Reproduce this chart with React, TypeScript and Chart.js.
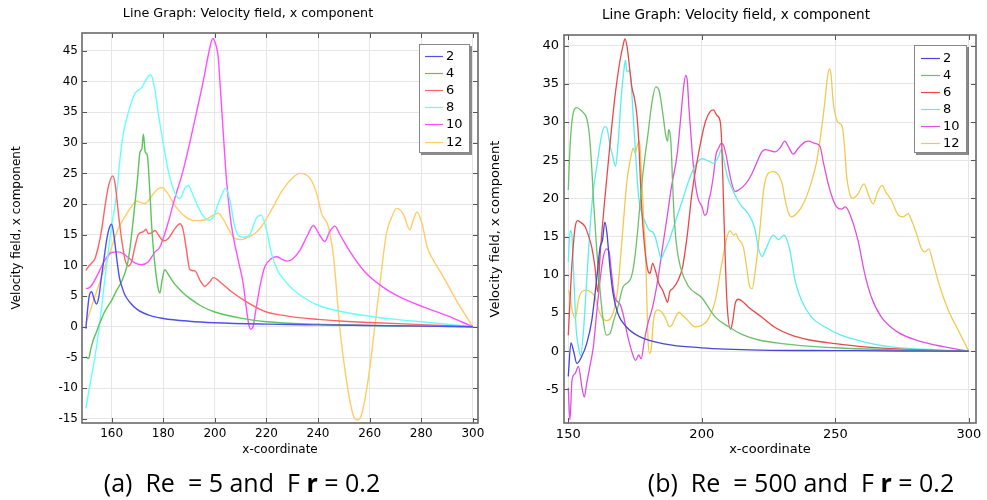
import React, { useEffect, useRef } from 'react';
import { Chart, registerables } from 'chart.js';

Chart.register(...registerables);

const SERIES_LABELS = ['2', '4', '6', '8', '10', '12'];
const TITLE_TEXT = 'Line Graph: Velocity field, x component';
const X_TITLE = 'x-coordinate';
const Y_TITLE = 'Velocity field, x component';

const A_X_TICKS = [160, 180, 200, 220, 240, 260, 280, 300];
const A_Y_TICKS = [-15, -10, -5, 0, 5, 10, 15, 20, 25, 30, 35, 40, 45];
const B_X_TICKS = [150, 200, 250, 300];
const B_Y_TICKS = [-5, 0, 5, 10, 15, 20, 25, 30, 35, 40];

const A_COLORS = ['#5050f0', '#5cc45c', '#ff6464', '#66ffff', '#ff50ff', '#ffcc66'];
const B_COLORS = ['#4646d8', '#6cc06c', '#e84a4a', '#5aeeee', '#e050e0', '#f0ca50'];

// Panel (a): Re = 5, Fr = 0.2   [x, u]
const A2: number[][] = [[150,-0.3],[150.6,2.5],[151.3,5],[152.2,5.7],[153.2,4.5],[154.1,3.7],[155,4.8],[156,8],[157,11],[158,14],[159,16],[160,16.7],[161,14.5],[162,11],[163,8],[164,6.5],[165,5.3],[167,4],[170,2.8],[175,1.8],[180,1.35],[190,0.9],[200,0.65],[220,0.42],[240,0.3],[260,0.2],[280,0.1],[300,0]];
const A4: number[][] = [[150,-4.9],[151,-5.2],[152,-3.5],[153,-2],[154,-1],[155,0.2],[156,1.2],[157,2.2],[158,3],[160,4.3],[162,6],[164,7.5],[166,10],[167,12.5],[168,16],[169,20],[170,24],[171,28.5],[171.7,29],[172.3,31.4],[173,28.5],[173.8,28],[174.8,22],[175.5,16.5],[176.1,13],[177,9.2],[178,6.3],[178.7,5.5],[179.5,7.5],[180.6,9.3],[182,8.5],[184,7.2],[187,5.8],[190,4.7],[195,3.3],[200,2.4],[210,1.4],[220,0.8],[240,0.4],[260,0.2],[280,0.1],[300,0]];
const A6: number[][] = [[150,9.2],[151,9.8],[152.3,10.4],[153.5,11.1],[154.8,13],[156.1,15.8],[157.4,19.6],[158.7,22.8],[160.4,24.6],[161.3,23.4],[162.6,18.5],[163.9,14.1],[165.2,10.9],[166.5,9.9],[167.7,10.6],[169,13],[170.3,15],[172.3,15.5],[173.3,15.9],[174.2,15.2],[175.5,15.3],[176.8,15.7],[178.1,15],[180,14],[182,14.4],[184.5,16],[186.5,16.8],[187.7,15.8],[189,12.5],[190.3,9.3],[192.3,9.1],[194.2,7.6],[196.1,6.6],[198,7.3],[199.4,8],[202.6,7.1],[206.5,5.7],[212.9,3.9],[220,2.4],[225.8,1.9],[230,1.6],[240,1.2],[250,0.9],[260,0.7],[280,0.35],[300,0]];
const A8: number[][] = [[150,-13.3],[152,-8.5],[153.5,-5],[155.2,0],[158,10],[160,16.5],[161.9,21.5],[163.2,27.2],[164.5,31.5],[166.5,35],[169,38],[171.6,39],[173.5,40.4],[174.8,41.1],[175.7,40.7],[176.8,38.5],[178.1,34.7],[180,29.9],[181.9,25.5],[184.5,21.8],[186.5,20.9],[188.4,22.6],[189.7,23.1],[191,22],[192.3,20.7],[194.8,18.5],[197.4,17.4],[199.4,17.9],[201.3,20.1],[203.2,22],[204.1,22.6],[205.8,20.7],[207.7,16.3],[209.7,14.7],[211.6,14.6],[213.5,15],[216.1,17.7],[218,18.2],[220,15.8],[221.9,12],[224.5,9],[225.8,8.2],[230,6.2],[235,4.6],[240,3.5],[250,2.4],[260,1.7],[270,1.2],[280,0.8],[290,0.4],[300,0]];
const A10: number[][] = [[150,6.25],[151,6.3],[152.3,6.8],[154.8,8.7],[157.4,10.9],[160,12.1],[162.6,12.2],[165.2,11.7],[169,10.4],[171.6,10.1],[174.2,10.6],[176.8,12.2],[178.7,13],[181.9,17],[184.5,21],[187.4,25],[190,29.5],[192.9,35],[195.5,40],[197.8,45],[199.2,47],[200.5,45.8],[201.3,44],[201.8,41],[203.2,32],[204.5,24],[205.8,18.5],[207,15],[208.2,12.5],[209.5,10],[211,7],[212.2,3],[213.2,0.3],[213.9,-0.4],[214.8,0],[215.8,2.5],[216.8,5],[218.2,8],[219.4,9.8],[221.9,11.1],[224,11.4],[226,11],[228,10.7],[230,11],[233,12.5],[236,15],[238.2,16.5],[240.5,15],[242.6,13.9],[244.5,15.5],[246.5,16.4],[248.5,15],[252,12.5],[258,9],[265,6.5],[271,5],[281,3.2],[290,1.8],[300,0]];
const A12: number[][] = [[150,0.5],[153.5,4.9],[157.4,9.8],[160,13],[162.6,16],[165.2,18],[167.7,19.6],[169.7,20.5],[171.6,20.2],[173,20.1],[174.8,20.9],[177.4,22.3],[179.4,22.7],[181.3,22],[184.5,19.8],[188.4,18],[192.3,17.3],[196.1,17.4],[199.4,18.2],[201.3,18.5],[203,17.7],[205.2,16],[207.7,14.4],[210.3,14.2],[212.9,14.6],[215.5,15.2],[218,16.3],[221.9,19],[225.8,22],[229.5,24],[232.9,25],[236.9,24.2],[239.5,21.7],[241.4,18.4],[244,16.3],[246,11.4],[248.5,-0.5],[251,-8.7],[253.6,-14.4],[255.2,-15.2],[256.8,-14.4],[259.4,-8.7],[262,0],[264.6,9.2],[266.5,15.2],[268.5,17.8],[270.4,19.3],[273,18.4],[275.6,15.8],[276.8,17.3],[278.4,18.7],[280.3,16.8],[282.3,13],[284.5,11],[287.8,8.7],[294.3,3.8],[300,0]];

// Panel (b): Re = 500, Fr = 0.2   [x, u]
const B2: number[][] = [[150,-3.3],[151,1.1],[152,0],[153.2,-1.6],[155,-0.7],[156.9,1],[158.8,4],[160.6,9.3],[161.9,13.6],[162.8,14.5],[163.7,16.9],[164.5,15.4],[165.6,11],[166.8,7.5],[168.6,4.9],[171.7,3.2],[176.7,1.9],[185.3,1],[200,0.44],[222,0.15],[250,0.08],[275,0.03],[300,0]];
const B4: number[][] = [[150,21.1],[150.7,27],[151.7,30.9],[153.2,31.9],[154.5,31.6],[155.7,31.2],[156.9,30.5],[157.9,28.3],[158.8,24],[159.4,20],[160.6,13.5],[161.9,8],[163.1,4],[164.3,2.1],[165.6,2.3],[167,4],[168.6,5.8],[170.5,8.4],[172.3,9],[173.6,9.7],[174.8,11.9],[176,15.8],[177.3,21],[178.2,24],[179.8,28.3],[181.4,32.7],[182.8,34.6],[184.1,34],[185.3,31.4],[186.5,28.3],[187.2,27.5],[187.6,29],[188.1,28.5],[188.5,27],[189,22.7],[189.6,18],[190.5,14],[192,11],[195,8.5],[200,7],[205,4.5],[210,3.2],[215,2.2],[221,1.5],[230,1],[250,0.45],[270,0.2],[300,0]];
const B6: number[][] = [[150,2.1],[151.4,11.5],[152.6,16.3],[153.5,17.1],[154.5,16.9],[156.3,16.3],[157.5,15.2],[158.8,13.6],[160,11],[161,7.8],[162,13],[163.7,20],[165.6,27],[167.4,33.1],[169.3,37.9],[170.5,40],[171.2,40.9],[172,39.9],[173,37],[173.8,34.6],[174.8,33.1],[175.7,30.9],[176.4,27.5],[177.3,20],[178.5,14],[179.8,10.6],[180.6,10.2],[181.6,11.5],[182.6,10.6],[184,8.8],[185.3,8],[186.3,7.1],[187.2,6.4],[188,7.8],[189.1,8.2],[191,9.2],[192.8,11],[194.5,15],[196.4,20.9],[198.9,26.1],[201.4,30.1],[203.2,31.4],[204.4,31.6],[205.6,30.9],[206.9,30.1],[207.5,27],[208.1,20],[208.8,12],[209.5,6],[210.8,2.9],[211.6,4],[212.5,6.2],[213.7,6.8],[215.6,6.4],[217.4,5.8],[222.3,4.5],[227,3.2],[233.6,2.1],[240,1.5],[250,1],[260,0.6],[270.7,0.35],[285,0.15],[300,0]];
const B8: number[][] = [[150,11.7],[150.7,15.8],[151.3,15.4],[152,10.2],[153,2.7],[153.8,0.6],[154.6,-0.6],[155.7,2.7],[156.9,9.3],[158.1,15.8],[159.2,20.5],[160.6,24],[162.5,28.3],[163.7,29.4],[164.5,29.2],[165.6,27],[166.8,25.3],[167.7,24.2],[168.6,27],[169.9,33.5],[170.9,37],[171.4,38.1],[172,36.6],[173,36.8],[173.6,35],[174.2,31.4],[175.4,24.8],[176.4,20],[177.6,18],[179.1,16.7],[180.4,15.8],[181.6,15.6],[182.8,14.7],[184,13],[184.8,12.1],[185.9,13],[187.8,14.5],[190.2,17.1],[192.7,19.7],[195.2,22.4],[197.7,24.4],[200.1,25.2],[202.6,24.9],[204.4,24.6],[206.3,25.5],[207.3,26.4],[208.1,25.3],[209.4,23.1],[211.2,21.4],[213.1,20],[214.9,19],[217.4,18],[219.9,16],[221.2,13.5],[222.6,12.4],[224,13.4],[226.8,15.2],[228.8,14.6],[230.8,15.2],[233,13.2],[234.9,9.3],[237.3,6.7],[241,4.5],[246,3.2],[252.2,2.1],[260.9,1.2],[270.8,0.57],[283,0.26],[300,0]];
const B10: number[][] = [[150,-4.8],[150.6,-9],[151.4,-3.8],[152.6,-2.9],[153.8,-2],[155.1,-4.7],[156,-6],[156.9,-4.2],[158.1,-2],[159.4,0.6],[160.6,4.9],[161.9,9.3],[163.1,12.3],[164.3,13.4],[165.3,13],[166.2,10.2],[167.4,7.1],[169.3,6.2],[170.5,4.9],[172.3,1.9],[174.2,-0.5],[175.2,-1.2],[176.4,-0.5],[177.3,-1],[178.5,1.4],[179.8,3.6],[181.6,5.8],[183.5,9.3],[185.3,13.6],[187.2,18],[188.4,21],[190.9,26.1],[192.1,30.5],[193.3,34.9],[194,36.1],[194.6,35.3],[195.2,31.8],[196.4,26.1],[197.5,22.2],[198.6,20],[200.1,18.9],[201.1,17.8],[202,18.2],[202.6,19.7],[203.2,20.5],[204.4,23.1],[205.3,25.7],[206.3,26.6],[207.3,27.2],[208.1,27],[209.1,25.7],[210,24],[211.2,22],[212.5,20.9],[213.7,21.1],[216.2,21.8],[218.6,23.1],[221.1,25.1],[222.3,26],[223.7,26.4],[227.4,26.1],[229.3,26.6],[231.1,27.5],[232.4,26.8],[234.3,25.8],[236.2,26.6],[238.7,27.4],[239.9,27.5],[242.4,27.2],[244.3,26.8],[245.5,24.8],[247.3,22],[249,20],[250.5,18.9],[252.3,18.6],[253.8,18.9],[255.4,18],[258.5,14.5],[261,10.2],[263.5,7.1],[267.2,4.5],[273.4,2.5],[280.9,1.4],[290.8,0.57],[300,0]];
const B12: number[][] = [[150,8],[150.5,7.5],[151.4,5.4],[152.6,4.3],[153.8,6.7],[155.1,7.8],[156.9,8],[158.2,7.8],[160,7.1],[161.2,5.6],[162.5,4.5],[164.3,4],[166.2,4.5],[167.4,5.8],[168.6,8.4],[169.9,13.6],[171.1,18.9],[172,22.4],[172.7,24],[173.6,25.7],[174.3,26.6],[175.1,25.9],[175.7,26.8],[176.7,27.5],[177.3,24],[177.9,20],[178.4,16],[178.9,13.6],[179.4,7.1],[179.9,1.4],[180.4,-0.3],[181,0.1],[181.9,4],[183.5,5.4],[185.1,5.1],[186.8,4],[187.8,3.2],[188.8,3.4],[190.2,4.5],[191.5,5.1],[192.7,4.7],[194.6,4.1],[196.4,3.4],[197.7,3.2],[200.1,3.4],[202.6,4.3],[205.1,6.7],[207.5,11.5],[209.4,14.9],[210.6,15.8],[211.9,15.2],[212.8,15.4],[213.7,14.7],[215.6,13.6],[216.8,11],[218,8.4],[218.9,8.2],[219.9,10.2],[221.1,13.6],[222.3,18],[223.1,21],[224.9,23.3],[226.8,23.5],[228.7,23.1],[230.2,21.8],[231.1,20],[232.4,18.2],[233.6,17.6],[235.5,18],[237.4,18.9],[239.5,20.5],[241.1,22.2],[243,24.8],[244.9,29.2],[246.1,32.7],[247,35.7],[247.8,37],[248.4,36.2],[249.2,32.7],[250.5,30.3],[251.7,29.8],[252.6,29.4],[253.4,27],[254.2,23.1],[255.5,20.5],[256.5,20],[257.5,20.2],[258.5,20.6],[259.8,21.5],[260.8,21.9],[262.3,20.6],[264.2,19.3],[265.8,20.8],[267.5,21.7],[269,20.8],[271.1,19.7],[273.6,17.8],[275.4,17.6],[277.3,18],[278.6,17.1],[280.4,15.4],[282.3,13.4],[283.6,13],[285,13.4],[286.7,11.5],[289.2,8.4],[292.3,5.4],[296.1,2.7],[300,0]];

const A_SERIES = [A2, A4, A6, A8, A10, A12];
const B_SERIES = [B2, B4, B6, B8, B10, B12];

type LegendBox = { x: number; y: number; w: number; h: number; l0: number; l1: number; tx: number; row0: number; dy: number };
type Panel = {
  left: number; w: number; h: number; yW: number; xH: number; padRight: number; padTop: number;
  font: number; titleFont: number; titleX: number; titleY: number; tickPadX: number; tickPadY: number;
  xTitlePad: number; yTitlePad: number;
  xMin: number; xMax: number; yMin: number; yMax: number;
  xTicks: number[]; yTicks: number[]; series: number[][][]; colors: string[]; lineW: number;
  legend: LegendBox;
};

const PANEL_A: Panel = {
  left: 0, w: 496, h: 470, yW: 82, xH: 47, padRight: 18, padTop: 33,
  font: 12, titleFont: 12.7, titleX: 248, titleY: 14, tickPadX: 4, tickPadY: 4,
  xTitlePad: 12.8, yTitlePad: 10,
  xMin: 148.5, xMax: 302, yMin: -15.7, yMax: 47.9,
  xTicks: A_X_TICKS, yTicks: A_Y_TICKS, series: A_SERIES, colors: A_COLORS, lineW: 1.4,
  legend: { x: 419, y: 44, w: 51, h: 109, l0: 425, l1: 443, tx: 446, row0: 56, dy: 17.1 },
};

const PANEL_B: Panel = {
  left: 487, w: 500, h: 470, yW: 77, xH: 47, padRight: 11, padTop: 35,
  font: 13, titleFont: 13.6, titleX: 249, titleY: 15, tickPadX: 4, tickPadY: 5,
  xTitlePad: 12.2, yTitlePad: 1.2,
  xMin: 148.4, xMax: 302.7, yMin: -9.4, yMax: 41.4,
  xTicks: B_X_TICKS, yTicks: B_Y_TICKS, series: B_SERIES, colors: B_COLORS, lineW: 1.3,
  legend: { x: 427, y: 45, w: 53, h: 108, l0: 434, l1: 453, tx: 456, row0: 57.7, dy: 17 },
};

const FONT = 'DejaVu Sans';

function LineChart({ panel }: { panel: Panel }) {
  const ref = useRef<HTMLCanvasElement>(null);
  useEffect(() => {
    const p = panel;
    const framePlugin = {
      id: 'frameAndLegend',
      afterDraw(chart: any) {
        const { ctx, chartArea } = chart;
        const { left, right, top, bottom } = chartArea;
        const xs = chart.scales.x;
        const ys = chart.scales.y;
        ctx.save();
        // title
        ctx.fillStyle = '#000';
        ctx.font = `${p.titleFont}px "${FONT}"`;
        ctx.textAlign = 'center';
        ctx.textBaseline = 'middle';
        ctx.fillText(TITLE_TEXT, p.titleX, p.titleY);
        // inward ticks
        ctx.strokeStyle = '#555';
        ctx.lineWidth = 1;
        ctx.beginPath();
        xs.ticks.forEach((t: any) => {
          const px = Math.round(xs.getPixelForValue(t.value)) + 0.5;
          ctx.moveTo(px, top); ctx.lineTo(px, top + 5);
          ctx.moveTo(px, bottom); ctx.lineTo(px, bottom - 5);
        });
        ys.ticks.forEach((t: any) => {
          const py = Math.round(ys.getPixelForValue(t.value)) + 0.5;
          ctx.moveTo(left, py); ctx.lineTo(left + 5, py);
          ctx.moveTo(right, py); ctx.lineTo(right - 5, py);
        });
        ctx.stroke();
        ctx.strokeStyle = '#6a6a6a';
        ctx.lineWidth = 1.6;
        ctx.strokeRect(left, top, right - left, bottom - top);

        // legend box
        const lg = p.legend;
        ctx.fillStyle = 'rgba(0,0,0,0.45)';
        ctx.fillRect(lg.x + 2, lg.y + 2, lg.w, lg.h);
        ctx.fillStyle = '#fff';
        ctx.fillRect(lg.x, lg.y, lg.w, lg.h);
        ctx.strokeStyle = '#888';
        ctx.lineWidth = 1;
        ctx.strokeRect(lg.x + 0.5, lg.y + 0.5, lg.w - 1, lg.h - 1);
        ctx.font = `13px "${FONT}"`;
        ctx.textBaseline = 'middle';
        ctx.textAlign = 'left';
        chart.data.datasets.forEach((ds: any, i: number) => {
          const y = Math.round(lg.row0 + i * lg.dy) + 0.5;
          ctx.strokeStyle = ds.borderColor;
          ctx.lineWidth = 1.2;
          ctx.beginPath();
          ctx.moveTo(lg.l0, y); ctx.lineTo(lg.l1, y);
          ctx.stroke();
          ctx.fillStyle = '#000';
          ctx.fillText(ds.label, lg.tx, y + 0.5);
        });
        ctx.restore();
      },
    };

    const chart = new Chart(ref.current as HTMLCanvasElement, {
      type: 'line',
      data: {
        datasets: p.series.map((s, i) => ({
          label: SERIES_LABELS[i],
          data: s.map(([x, y]) => ({ x, y })),
          borderColor: p.colors[i],
          backgroundColor: p.colors[i],
          borderWidth: p.lineW,
          pointRadius: 0,
          fill: false,
          cubicInterpolationMode: 'monotone' as const,
        })),
      },
      options: {
        animation: false,
        responsive: false,
        maintainAspectRatio: false,
        layout: { padding: { left: 0, right: p.padRight, top: p.padTop, bottom: 0 } },
        plugins: {
          legend: { display: false },
          tooltip: { enabled: false },
          title: { display: false },
        },
        scales: {
          x: {
            type: 'linear',
            min: p.xMin,
            max: p.xMax,
            afterBuildTicks: (s: any) => { s.ticks = p.xTicks.map((v) => ({ value: v })); },
            afterFit: (s: any) => { s.height = p.xH; },
            ticks: { color: '#000', font: { family: FONT, size: p.font }, padding: p.tickPadX, maxRotation: 0, callback: (v: any) => String(v) },
            grid: { color: '#e6e6e6', drawTicks: false },
            border: { display: false },
            title: { display: true, text: X_TITLE, color: '#000', font: { family: FONT, size: p.font }, padding: { top: 0, bottom: p.xTitlePad } },
          },
          y: {
            type: 'linear',
            min: p.yMin,
            max: p.yMax,
            afterBuildTicks: (s: any) => { s.ticks = p.yTicks.map((v) => ({ value: v })); },
            afterFit: (s: any) => { s.width = p.yW; },
            ticks: { color: '#000', font: { family: FONT, size: p.font }, padding: p.tickPadY, callback: (v: any) => String(v) },
            grid: { color: '#e6e6e6', drawTicks: false },
            border: { display: false },
            title: { display: true, text: Y_TITLE, color: '#000', font: { family: FONT, size: p.font }, padding: { top: p.yTitlePad, bottom: 0 } },
          },
        },
      },
      plugins: [framePlugin],
    } as any);
    return () => chart.destroy();
  }, [panel]);
  return (
    <canvas
      ref={ref}
      width={panel.w}
      height={panel.h}
      style={{ position: 'absolute', left: panel.left, top: 0, width: panel.w, height: panel.h }}
    />
  );
}

const captionStyle: React.CSSProperties = {
  position: 'absolute',
  top: 466,
  width: 420,
  textAlign: 'center',
  fontFamily: '"Open Sans", "Noto Sans", sans-serif',
  fontSize: 25,
  lineHeight: '32px',
  whiteSpace: 'pre',
  color: '#000',
};

export default function App() {
  return (
    <div style={{ position: 'absolute', left: 0, top: 0, width: 987, height: 500, background: '#fff', overflow: 'hidden' }}>
      <LineChart panel={PANEL_A} />
      <LineChart panel={PANEL_B} />
      <div style={{ ...captionStyle, left: 242 - 210 }}>
        {'(a)  Re  = 5 and  F '}<b>r</b>{' = 0.2'}
      </div>
      <div style={{ ...captionStyle, left: 801 - 210 }}>
        {'(b)  Re  = 500 and  F '}<b>r</b>{' = 0.2'}
      </div>
    </div>
  );
}
